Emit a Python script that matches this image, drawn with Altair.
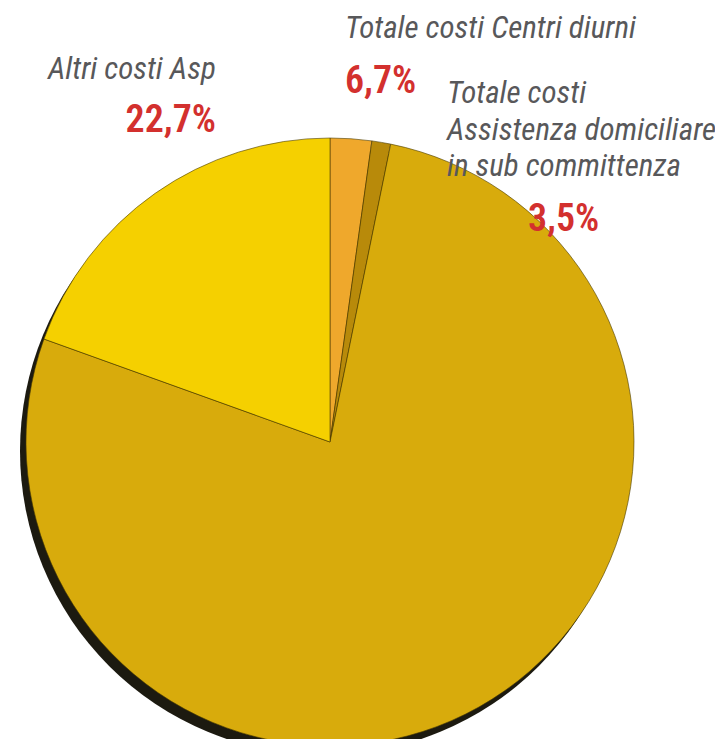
import altair as alt
import pandas as pd

# slice data (shares, clockwise from 12 o'clock)
slice_names = ["Totale costi Centri diurni",
               "Totale costi Assistenza domiciliare in sub committenza",
               "Altri costi (resto)",
               "Altri costi Asp"]
slice_shares = [2.2, 1.0, 77.3, 19.5]
slice_colors = ["#EFA82C", "#B88A0A", "#D8AB0C", "#F5D000"]
slice_edges = [0.6, 0.6, 0.0, 1.6]

# label texts
label_titles = ["Totale costi Centri diurni", "Altri costi Asp",
                "Totale costi", "Assistenza domiciliare", "in sub committenza"]
label_values = ["6,7%", "22,7%", "3,5%"]

df = pd.DataFrame({"name": slice_names, "share": slice_shares,
                   "order": list(range(len(slice_names)))})
shadow_df = pd.DataFrame({"name": ["shadow"], "share": [sum(slice_shares)]})

W, H = 707, 731
CX, CY, R = 322, 434, 304

shadow = alt.Chart(shadow_df).mark_arc(radius=R, color="#1c1a10").encode(
    theta=alt.Theta("share:Q"),
    x=alt.value(CX - 6), y=alt.value(CY + 9),
)

pie = alt.Chart(df).mark_arc(radius=R, stroke="#4a3a00").encode(
    theta=alt.Theta("share:Q", stack=True),
    order=alt.Order("order:Q"),
    color=alt.Color("name:N", scale=alt.Scale(domain=slice_names, range=slice_colors),
                    legend=None),
    strokeWidth=alt.StrokeWidth("name:N",
                                scale=alt.Scale(domain=slice_names, range=slice_edges),
                                legend=None),
    x=alt.value(CX), y=alt.value(CY),
)

FONT = "Liberation Sans Narrow, Roboto Condensed, Roboto, sans-serif"
grey = dict(font=FONT, fontSize=31, fontStyle="italic", color="#58585A",
            baseline="alphabetic")
red = dict(font=FONT, fontSize=38, fontStyle="normal", fontWeight=600,
           color="#D3302E", baseline="alphabetic")

def txt(text, x, y, style, align="left"):
    s = dict(style)
    s["align"] = align
    return alt.Chart(pd.DataFrame({"t": [text]})).mark_text(**s).encode(
        text="t:N", x=alt.value(x), y=alt.value(y))

texts = [
    txt(label_titles[0], 337, 30, grey),
    txt(label_values[0], 337, 85, red),
    txt(label_titles[1], 40, 71, grey),
    txt(label_values[1], 208, 124, red, align="right"),
    txt(label_titles[2], 439, 95, grey),
    txt(label_titles[3], 439, 132, grey),
    txt(label_titles[4], 439, 168, grey),
    txt(label_values[2], 520, 223, red),
]

chart = alt.layer(shadow, pie, *texts).properties(
    width=W, height=H, autosize=alt.AutoSizeParams(type="none"), padding=0
).configure_view(stroke=None)

chart.save("out.html", embed_options={"renderer": "svg", "actions": False})
